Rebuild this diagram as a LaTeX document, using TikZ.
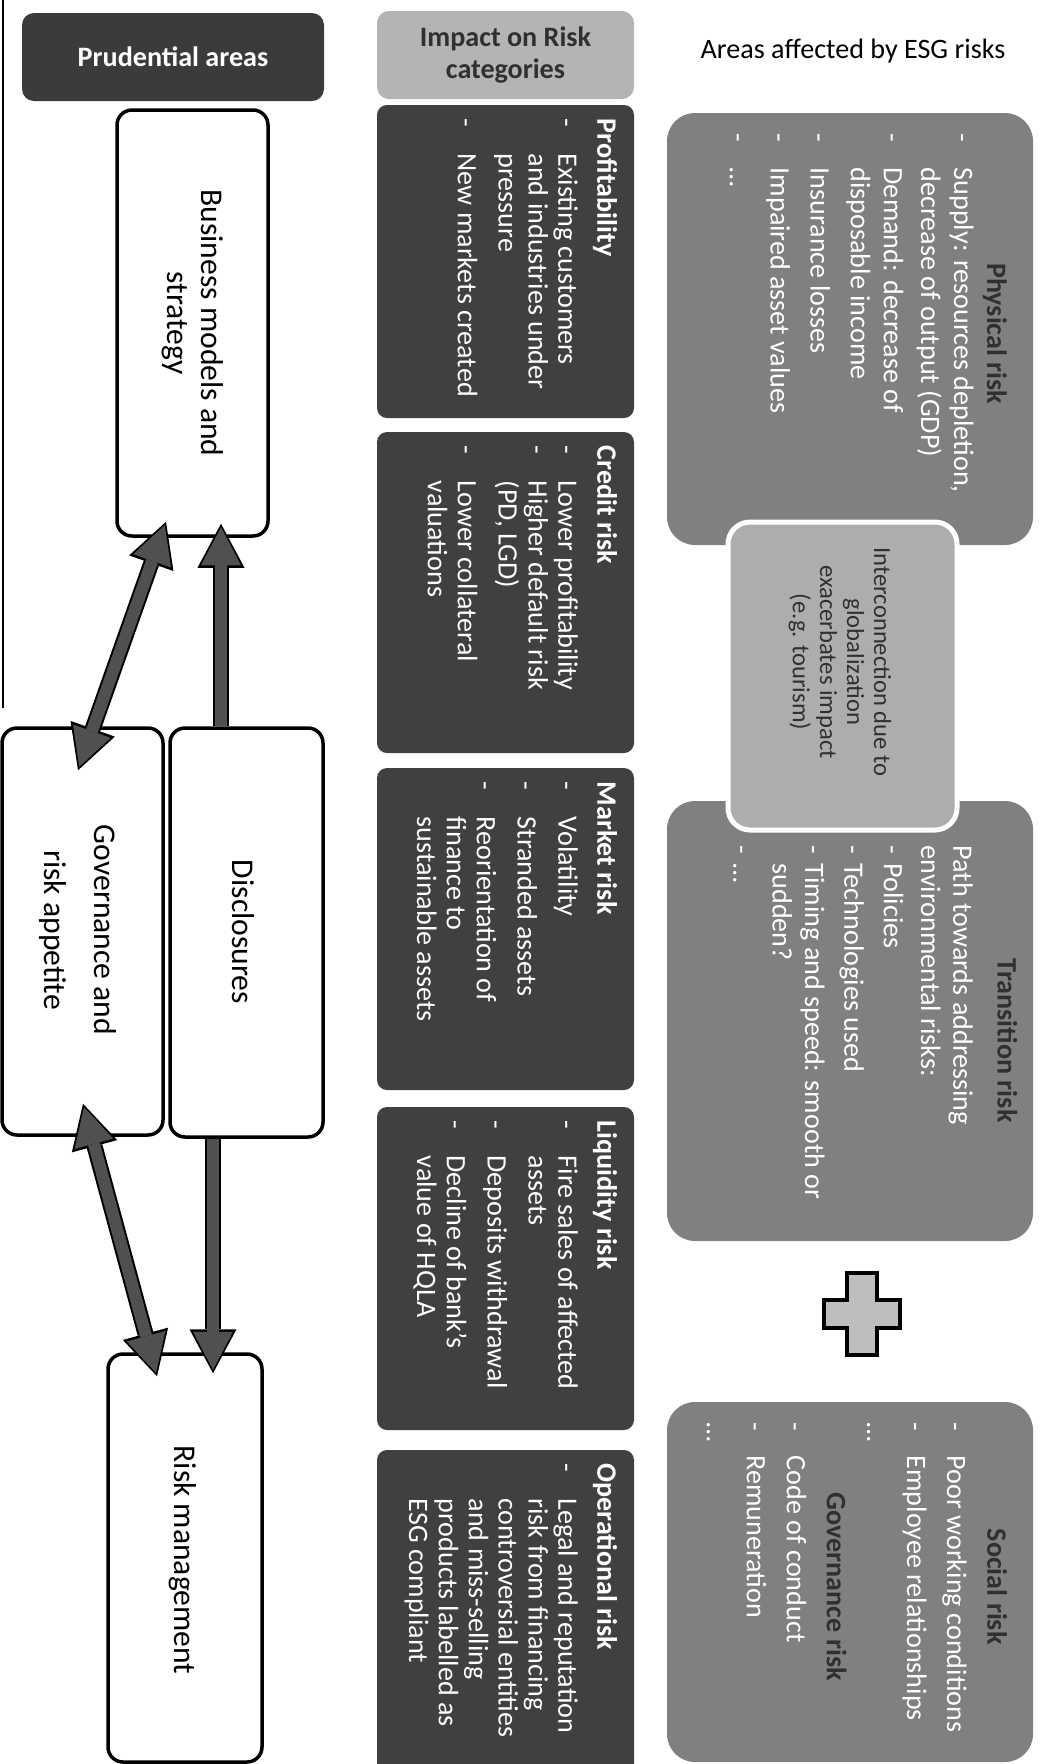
\documentclass[tikz,border=0pt]{standalone}
\usepackage{fontspec}
\setmainfont{Carlito}
\usepackage{xcolor}
\usetikzlibrary{
    arrows.meta,
    positioning,
    calc
}
\definecolor{catgray}{HTML}{404040}
\definecolor{esggray}{HTML}{808080}
\definecolor{linkgray}{HTML}{ADADAD}
\definecolor{headlight}{HTML}{B4B4B4}
\definecolor{headdark}{HTML}{3B3B3B}
\definecolor{titlegray}{HTML}{303030}
\definecolor{arrowgray}{HTML}{505050}
\definecolor{plusgray}{HTML}{BEBEBE}
\newcommand{\dsh}[1]{\makebox[#1][l]{-}}
\tikzset{%
    % Specifications for style of boxes:
    base/.style = {rectangle, inner sep=0pt},
    prud/.style = {base, rounded corners=1.5mm, draw=black, line width=0.35mm, fill=white},
    cat/.style = {base, rounded corners=1mm, fill=catgray},
    esg/.style = {base, rounded corners=2.8mm, fill=esggray},
    link/.style = {base, rounded corners=2.2mm, fill=linkgray, draw=white, line width=0.5mm},
    head/.style = {base, rounded corners=1.2mm, align=center, font=\fontsize{8}{9}\selectfont\bfseries},
    % rotated texts
    vtxt/.style = {rotate=-90, inner sep=0pt},
    vblk/.style = {vtxt, anchor=north west},
    % block arrows
    flow/.style = {draw=arrowgray, line width=1.2mm, shorten >=0.35mm,
        -{Triangle[length=3.8mm, width=4.0mm, line width=0pt]},
        preaction={draw=black, line width=1.6mm, shorten >=0pt,
            -{Triangle[length=4.4mm, width=4.7mm, line width=0pt]}}},
    flowtwo/.style = {draw=arrowgray, line width=1.2mm, shorten >=0.35mm, shorten <=0.35mm,
        {Triangle[length=3.8mm, width=4.0mm, line width=0pt]}-{Triangle[length=3.8mm, width=4.0mm, line width=0pt]},
        preaction={draw=black, line width=1.6mm, shorten >=0pt, shorten <=0pt,
            {Triangle[length=4.4mm, width=4.7mm, line width=0pt]}-{Triangle[length=4.4mm, width=4.7mm, line width=0pt]}}}
}

\begin{document}
\begin{tikzpicture}[x=0.1mm, y=-0.1mm]
    \useasboundingbox (0,0) rectangle (1042,1764);
    \fill[white] (0,0) rectangle (1042,1764);
    \draw[line width=0.3mm] (3,0) -- (3,708);

    % headers
    \node[head, fill=headdark, text=white, minimum width=30.2mm, minimum height=8.8mm] (hp) at (173,57) {Prudential areas};
    \node[head, fill=headlight, text=titlegray, minimum width=25.7mm, minimum height=8.8mm] (hi) at (505.5,55) {Impact on Risk\\categories};
    \node[font=\fontsize{8}{9}\selectfont] (ha) at (853,51) {Areas affected by ESG risks};

    % prudential areas
    \node[prud, minimum width=15.1mm, minimum height=42.6mm] (bm) at (192.5,323) {};
    \node[prud, minimum width=15.3mm, minimum height=40.9mm] (ds) at (246.5,932.5) {};
    \node[prud, minimum width=16.1mm, minimum height=40.7mm] (gv) at (82.5,931.5) {};
    \node[prud, minimum width=15.4mm, minimum height=40.8mm] (rm) at (185,1558) {};
    \node[vtxt, align=center, font=\fontsize{9}{9.7}\selectfont] (bm-t) at (bm) {Business models and\\strategy};
    \node[vtxt, font=\fontsize{9}{9.7}\selectfont] (ds-t) at (243,932) {Disclosures};
    \node[vtxt, align=center, font=\fontsize{9}{14.2}\selectfont] (gv-t) at (78,930) {Governance and\\risk appetite};
    \node[vtxt, font=\fontsize{9}{9.7}\selectfont] (rm-t) at (183,1560) {Risk management};

    \draw[flow] ($(ds.north)+(-25.5,0)$) -- ($(ds.north |- bm.south)+(-25.5,-14)$);
    \draw[flowtwo] ($(gv.north)+(-4.5,44)$) -- ($(bm.south)+(-26.5,-16)$);
    \draw[flow] ($(ds.south)+(-33.5,0)$) -- ($(ds.south |- rm.north)+(-33.5,21)$);
    \draw[flowtwo] ($(gv.south)+(0.5,-33)$) -- ($(rm.north)+(-28,24)$);

    % risk categories
    \node[cat, minimum width=25.7mm, minimum height=31.3mm] (pr) at (505.5,261.5) {};
    \node[cat, minimum width=25.7mm, minimum height=32.1mm] (cr) at (505.5,592.5) {};
    \node[cat, minimum width=25.7mm, minimum height=32.2mm] (mk) at (505.5,929) {};
    \node[cat, minimum width=25.7mm, minimum height=32.3mm] (lq) at (505.5,1268.5) {};
    \node[cat, minimum width=25.7mm, minimum height=33mm] (op) at (505.5,1615) {};

    \node[vblk, text=white, font=\fontsize{8}{8.5}\selectfont] (pr-t) at (619,118) {%
        \begin{tabular}{@{}l@{}l@{}}
            \multicolumn{2}{@{}l@{}}{\bfseries Profitability}\\[2.6pt]
            \dsh{3.5mm} & Existing customers\\
            & and industries under\\
            & pressure\\[3.1pt]
            \dsh{3.5mm} & New markets created
        \end{tabular}};
    \node[vblk, text=white, font=\fontsize{8}{8.5}\selectfont] (cr-t) at (619,445) {%
        \begin{tabular}{@{}l@{}l@{}}
            \multicolumn{2}{@{}l@{}}{\bfseries Credit risk}\\[2.6pt]
            \dsh{3.5mm} & Lower profitability\\
            \dsh{3.5mm} & Higher default risk\\
            & (PD, LGD)\\[3.1pt]
            \dsh{3.5mm} & Lower collateral\\
            & valuations
        \end{tabular}};
    \node[vblk, text=white, font=\fontsize{8}{8.5}\selectfont] (mk-t) at (619,781) {%
        \begin{tabular}{@{}l@{}l@{}}
            \multicolumn{2}{@{}l@{}}{\bfseries Market risk}\\[2.6pt]
            \dsh{3.5mm} & Volatility\\[3.1pt]
            \dsh{3.5mm} & Stranded assets\\[3.1pt]
            \dsh{3.5mm} & Reorientation of\\
            & finance to\\
            & sustainable assets
        \end{tabular}};
    \node[vblk, text=white, font=\fontsize{8}{8.5}\selectfont] (lq-t) at (619,1120) {%
        \begin{tabular}{@{}l@{}l@{}}
            \multicolumn{2}{@{}l@{}}{\bfseries Liquidity risk}\\[2.6pt]
            \dsh{3.5mm} & Fire sales of affected\\
            & assets\\[3.1pt]
            \dsh{3.5mm} & Deposits withdrawal\\[3.1pt]
            \dsh{3.5mm} & Decline of bank’s\\
            & value of HQLA
        \end{tabular}};
    \node[vblk, text=white, font=\fontsize{8}{8.5}\selectfont] (op-t) at (619,1463) {%
        \begin{tabular}{@{}l@{}l@{}}
            \multicolumn{2}{@{}l@{}}{\bfseries Operational risk}\\[2.6pt]
            \dsh{3.5mm} & Legal and reputation\\
            & risk from financing\\
            & controversial entities\\
            & and miss-selling\\
            & products labelled as\\
            & ESG compliant
        \end{tabular}};

    % ESG risks
    \node[esg, minimum width=36.6mm, minimum height=43.2mm] (ph) at (850,329) {};
    \node[esg, minimum width=36.6mm, minimum height=44mm] (tr) at (850,1021) {};
    \node[esg, minimum width=36.6mm, minimum height=36mm] (so) at (850,1582) {};
    \node[link, minimum width=22.9mm, minimum height=30.8mm] (ic) at (842.5,676) {};

    \node[vblk, text=white, font=\fontsize{8}{9.4}\selectfont] (ph-t) at (1011,133) {%
        \begin{tabular}{@{}l@{}l@{}}
            \multicolumn{2}{@{}c@{}}{\makebox[40mm]{\bfseries\color{titlegray}Physical risk}}\\
            \dsh{3.4mm} & Supply: resources depletion,\\
            & decrease of output (GDP)\\[1.2pt]
            \dsh{3.4mm} & Demand: decrease of\\
            & disposable income\\[2pt]
            \dsh{3.4mm} & Insurance losses\\[2pt]
            \dsh{3.4mm} & Impaired asset values\\[2.2pt]
            \dsh{3.4mm} & …
        \end{tabular}};
    \node[vblk, text=white, font=\fontsize{8}{9.2}\selectfont] (tr-t) at (1021,845) {%
        \begin{tabular}{@{}l@{}l@{}}
            \multicolumn{2}{@{}c@{}}{\makebox[39mm]{\bfseries\color{titlegray}Transition risk}}\\[3.4pt]
            \multicolumn{2}{@{}l@{}}{Path towards addressing}\\
            \multicolumn{2}{@{}l@{}}{environmental risks:}\\[1.4pt]
            \dsh{1.8mm} & Policies\\[2pt]
            \dsh{1.8mm} & Technologies used\\[2pt]
            \dsh{1.8mm} & Timing and speed: smooth or\\
            & sudden?\\[2pt]
            \dsh{1.8mm} & …
        \end{tabular}};
    \node[vblk, text=white, font=\fontsize{8}{11.4}\selectfont] (so-t) at (1016,1422) {%
        \begin{tabular}{@{}l@{}l@{}}
            \multicolumn{2}{@{}c@{}}{\makebox[32.8mm]{\bfseries\color{titlegray}Social risk}}\\
            \dsh{3.3mm} & Poor working conditions\\
            \dsh{3.3mm} & Employee relationships\\
            \makebox[3.3mm][l]{…} & \\
            \multicolumn{2}{@{}c@{}}{\makebox[32.8mm]{\bfseries\color{titlegray}Governance risk}}\\
            \dsh{3.3mm} & Code of conduct\\
            \dsh{3.3mm} & Remuneration\\
            \makebox[3.3mm][l]{…} &
        \end{tabular}};
    \node[vtxt, align=center, text=titlegray, font=\fontsize{7}{7.7}\selectfont] (ic-t) at (840,662) {Interconnection due to\\globalization\\exacerbates impact\\(e.g. tourism)};

    % plus sign
    \draw[fill=plusgray, line width=0.45mm] (847,1273) -- (877,1273) -- (877,1300) -- (900,1300) -- (900,1328)
        -- (877,1328) -- (877,1355) -- (847,1355) -- (847,1328) -- (824,1328) -- (824,1300) -- (847,1300) -- cycle;
\end{tikzpicture}
\end{document}
